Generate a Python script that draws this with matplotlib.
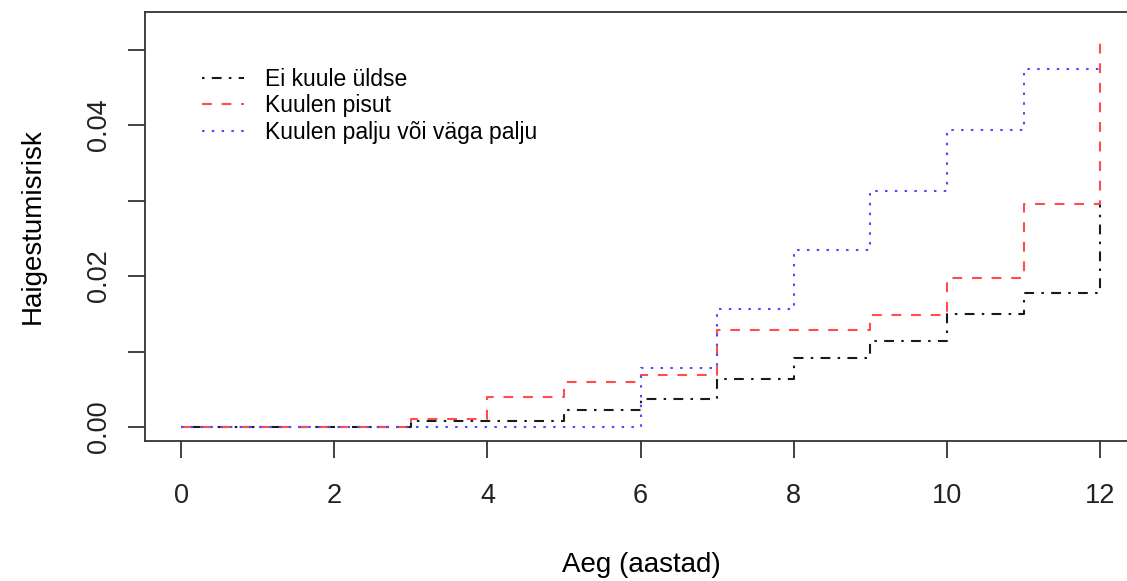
import matplotlib

matplotlib.use("Agg")
import matplotlib.pyplot as plt

plt.rcParams["font.family"] = ["Liberation Sans", "DejaVu Sans"]

# cumulative disease risk at each year (steps-post)
years = list(range(13))
risk_none = [0, 0, 0, 0.0008, 0.0008, 0.0022, 0.0037, 0.0064, 0.0092, 0.0114, 0.0150, 0.0177, 0.0300]
risk_little = [0, 0, 0, 0.0011, 0.0040, 0.0060, 0.0069, 0.0128, 0.0128, 0.0148, 0.0197, 0.0296, 0.0517]
risk_much = [0, 0, 0, 0, 0, 0, 0.0078, 0.0156, 0.0235, 0.0313, 0.0393, 0.0474, 0.0474]

labels = ["Ei kuule üldse", "Kuulen pisut", "Kuulen palju või väga palju"]
x_ticks = [0, 2, 4, 6, 8, 10, 12]
y_ticks = [0.00, 0.01, 0.02, 0.03, 0.04, 0.05]
y_ticklabels = ["0.00", "", "0.02", "", "0.04", ""]

W, H = 1127, 581
fig = plt.figure(figsize=(W / 100, H / 100), dpi=100)
ax = fig.add_axes([145 / W, (H - 441) / H, (1137 - 145) / W, (441 - 12) / H])

lw = 1.5
ax.plot(years, risk_none, drawstyle="steps-post", color="#1a1a1a", lw=lw,
        linestyle=(0, (1.2, 3.5, 4.7, 3.5)), label=labels[0])
ax.plot(years, risk_little, drawstyle="steps-post", color="#ff4d4d", lw=lw,
        linestyle=(0, (4.7, 4.7)), label=labels[1])
ax.plot(years, risk_much, drawstyle="steps-post", color="#4d4dff", lw=lw,
        linestyle=(0, (1.2, 3.5)), label=labels[2])

ax.set_xlim(-0.47, 12.48)
ax.set_ylim(-0.00185, 0.05497)
ax.set_xticks(x_ticks)
ax.set_xticklabels([str(t) for t in x_ticks])
ax.set_yticks(y_ticks)
ax.set_yticklabels(y_ticklabels, rotation=90, va="center")

ax.tick_params(axis="both", direction="out", length=12, width=1.2,
               labelsize=19.5, colors="#222222")
ax.tick_params(axis="x", pad=18)
ax.tick_params(axis="y", pad=12)
for side in ("left", "top", "bottom", "right"):
    ax.spines[side].set_linewidth(1.3)
    ax.spines[side].set_color("#333333")

ax.set_xlabel("Aeg (aastad)", fontsize=20, labelpad=31)
ax.set_ylabel("Haigestumisrisk", fontsize=20, labelpad=29)

ax.legend(loc="upper left", bbox_to_anchor=((202 - 145) / (1137 - 145), 1 - (68 - 12) / (441 - 12)),
          frameon=False, fontsize=16.5, handlelength=1.85, handletextpad=0.9,
          labelspacing=0.15, borderaxespad=0, borderpad=0)

fig.savefig("out.png", dpi=100)
